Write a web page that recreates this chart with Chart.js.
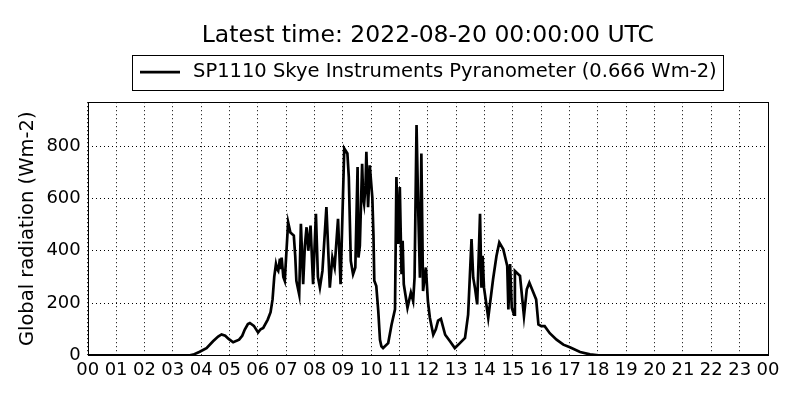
<!DOCTYPE html>
<html>
<head>
<meta charset="utf-8">
<script src="https://cdn.jsdelivr.net/npm/chart.js@4"></script>
<style>
  body { margin: 0; background: #fff; }
  #wrap { width: 800px; height: 400px; }
</style>
</head>
<body>
<div id="wrap"><canvas id="grafico"></canvas></div>
<script>
// horas (UTC) e radiação global
const horas = [0, 3.6, 3.72, 3.95, 4.19, 4.42, 4.6, 4.72, 4.85, 4.97, 5.13, 5.34, 5.45, 5.54, 5.65, 5.72, 5.86, 6.01, 6.1, 6.19,
  6.35, 6.45, 6.52, 6.58, 6.64, 6.68, 6.72, 6.78, 6.8, 6.84, 6.9, 6.95, 7.07, 7.15, 7.27, 7.32, 7.36, 7.46, 7.52, 7.6,
  7.66, 7.72, 7.78, 7.86, 7.95, 8.05, 8.12, 8.19, 8.28, 8.42, 8.54, 8.63, 8.71, 8.83, 8.92, 9.05, 9.16, 9.21, 9.28, 9.36,
  9.44, 9.52, 9.55, 9.6, 9.68, 9.72, 9.75, 9.8, 9.83, 9.89, 9.95, 10.04, 10.08, 10.11, 10.18, 10.25, 10.31, 10.36, 10.42, 10.6,
  10.72, 10.84, 10.89, 10.95, 11.01, 11.07, 11.11, 11.15, 11.28, 11.4, 11.48, 11.53, 11.6, 11.66, 11.72, 11.77, 11.83, 11.93, 12.0, 12.07,
  12.19, 12.28, 12.36, 12.46, 12.61, 12.78, 12.95, 13.13, 13.31, 13.42, 13.54, 13.6, 13.66, 13.74, 13.84, 13.89, 13.93, 13.98, 14.13, 14.3,
  14.42, 14.52, 14.66, 14.8, 14.84, 14.9, 14.96, 15.04, 15.07, 15.25, 15.39, 15.49, 15.58, 15.7, 15.82, 15.9, 16.0, 16.12, 16.3, 16.54,
  16.78, 17.01, 17.37, 17.72, 18.02, 24];
const radiacao = [0, 0, 3, 14, 28, 54, 72, 80, 75, 63, 50, 60, 75, 99, 120, 124, 113, 88, 100, 105,
  137, 165, 214, 300, 349, 330, 323, 370, 330, 374, 300, 285, 509, 470, 458, 380, 285, 233, 503, 272,
  420, 490, 400, 496, 272, 541, 300, 259, 323, 567, 259, 374, 337, 522, 272, 791, 772, 682, 361, 310,
  336, 720, 374, 420, 733, 600, 579, 650, 778, 567, 727, 603, 460, 285, 265, 169, 60, 35, 28, 47,
  118, 176, 682, 426, 644, 310, 438, 272, 182, 240, 208, 297, 881, 554, 297, 772, 246, 336, 208, 144,
  79, 100, 133, 140, 79, 54, 28, 47, 67, 156, 445, 297, 259, 195, 541, 259, 381, 259, 144, 291,
  380, 432, 406, 342, 176, 349, 182, 156, 323, 304, 150, 253, 278, 246, 214, 118, 112, 112, 85, 60,
  41, 31, 13, 4, 0, 0];

// marcas dos eixos
const ticksX = [0, 1, 2, 3, 4, 5, 6, 7, 8, 9, 10, 11, 12, 13, 14, 15, 16, 17, 18, 19, 20, 21, 22, 23, 24];
const ticksY = [0, 200, 400, 600, 800];

const titulo = 'Latest time: 2022-08-20 00:00:00 UTC';
const legenda = 'SP1110 Skye Instruments Pyranometer (0.666 Wm-2)';
const eixoY = 'Global radiation (Wm-2)';

const fonte = 'DejaVu Sans';

// moldura do gráfico + legenda desenhada à mão (com caixa, estilo matplotlib)
const moldura = {
  id: 'moldura',
  afterDraw(chart) {
    const ctx = chart.ctx;
    const a = chart.chartArea;
    ctx.save();
    ctx.strokeStyle = '#000';
    ctx.lineWidth = 1;
    ctx.strokeRect(Math.round(a.left) + 0.5, Math.round(a.top) + 0.5, Math.round(a.right - a.left), Math.round(a.bottom - a.top));

    const ds = chart.data.datasets[0];
    ctx.font = '19.5px "' + fonte + '"';
    const larg = 40 + 13 + ctx.measureText(ds.label).width;
    const cx = (a.left + a.right) / 2;
    const x0 = Math.round(cx - larg / 2);
    const yc = a.top - 30;
    ctx.strokeRect(x0 - 7.5, Math.round(a.top - 47) + 0.5, Math.round(larg + 14), 35);
    ctx.beginPath();
    ctx.lineWidth = ds.borderWidth;
    ctx.moveTo(x0, yc);
    ctx.lineTo(x0 + 40, yc);
    ctx.stroke();
    ctx.fillStyle = '#000';
    ctx.textBaseline = 'middle';
    ctx.textAlign = 'left';
    ctx.fillText(ds.label, x0 + 53, yc);
    ctx.restore();
  }
};

new Chart(document.getElementById('grafico'), {
  type: 'line',
  data: {
    datasets: [{
      label: legenda,
      data: horas.map((h, i) => ({ x: h, y: radiacao[i] })),
      borderColor: '#000',
      backgroundColor: '#000',
      borderWidth: 2.7,
      pointRadius: 0,
      tension: 0,
      fill: false
    }]
  },
  options: {
    responsive: true,
    maintainAspectRatio: false,
    animation: false,
    layout: { padding: { left: 16, right: 32, top: 0, bottom: 15 } },
    plugins: {
      title: {
        display: true,
        text: titulo,
        fullSize: false,
        color: '#000',
        font: { family: fonte, size: 23.5, weight: 'normal' },
        padding: { top: 22, bottom: 52 }
      },
      legend: { display: false },
      tooltip: { enabled: false }
    },
    scales: {
      x: {
        type: 'linear',
        min: 0,
        max: 24,
        afterBuildTicks: s => { s.ticks = ticksX.map(v => ({ value: v })); },
        border: { display: false, dash: [1, 3] },
        grid: { color: '#000', lineWidth: 1, drawTicks: false },
        ticks: {
          color: '#000',
          font: { family: fonte, size: 18 },
          padding: 4,
          maxRotation: 0,
          autoSkip: false,
          callback: v => String(v % 24).padStart(2, '0')
        }
      },
      y: {
        min: 0,
        max: 968,
        afterBuildTicks: s => { s.ticks = ticksY.map(v => ({ value: v })); },
        border: { display: false, dash: [1, 3] },
        grid: { color: '#000', lineWidth: 1, drawTicks: false },
        ticks: {
          color: '#000',
          font: { family: fonte, size: 18 },
          padding: 7
        },
        title: {
          display: true,
          text: eixoY,
          color: '#000',
          font: { family: fonte, size: 19.5 },
          padding: { top: 0, bottom: 0 }
        }
      }
    }
  },
  plugins: [moldura]
});
</script>
</body>
</html>
